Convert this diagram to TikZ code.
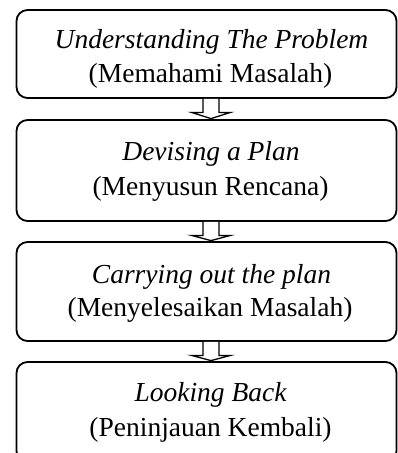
\documentclass[tikz,border=0pt]{standalone}
\usepackage{fontspec}
\setmainfont{Liberation Serif}
\usetikzlibrary{calc}
\begin{document}
\begin{tikzpicture}[x=1pt,y=-1pt,
  box/.style={draw, line width=1.8pt, rounded corners=11pt, minimum width=380pt, inner sep=0pt},
  txt/.style={anchor=base, inner sep=0pt, font=\fontsize{27.5}{34}\selectfont},
  blockarrow/.style={draw, line width=1.3pt, fill=white, line join=miter}]
\useasboundingbox (0,0) rectangle (397,453);
% boxes
\node[box, minimum height=88pt]  (b1) at (206.5,54) {};
\node[box, minimum height=101pt] (b2) at (206.5,170.5) {};
\node[box, minimum height=99pt]  (b3) at (206.5,291.5) {};
\node[box, minimum height=100pt] (b4) at (206.5,412) {};
% texts
\node[txt] (t1a) at (211.5,48.3) {\itshape Understanding The Problem};
\node[txt] (t1b) at (210.5,82.3) {(Memahami Masalah)};
\node[txt] (t2a) at (211,160) {\itshape Devising a Plan};
\node[txt] (t2b) at (210.5,195) {(Menyusun Rencana)};
\node[txt] (t3a) at (211.5,283.3) {\itshape Carrying out the plan};
\node[txt] (t3b) at (210,316.5) {(Menyelesaikan Masalah)};
\node[txt] (t4a) at (210.5,401.7) {\itshape Looking Back};
\node[txt] (t4b) at (210.5,436.7) {(Peninjauan Kembali)};
% axis of arrows
\coordinate (ax) at (211,0);
% block arrows
\foreach \s/\t in {b1/b2, b2/b3, b3/b4}{
  \draw[blockarrow]
    ($(\s.south -| ax)+(-8,0)$) -- ++(0,13.5) -- ++(-11.5,0)
    -- ($(\t.north -| ax)+(0,-0.5)$)
    -- ($(\s.south -| ax)+(19.5,13.5)$) -- ++(-11.5,0) -- ++(0,-13.5);
}
\end{tikzpicture}
\end{document}
